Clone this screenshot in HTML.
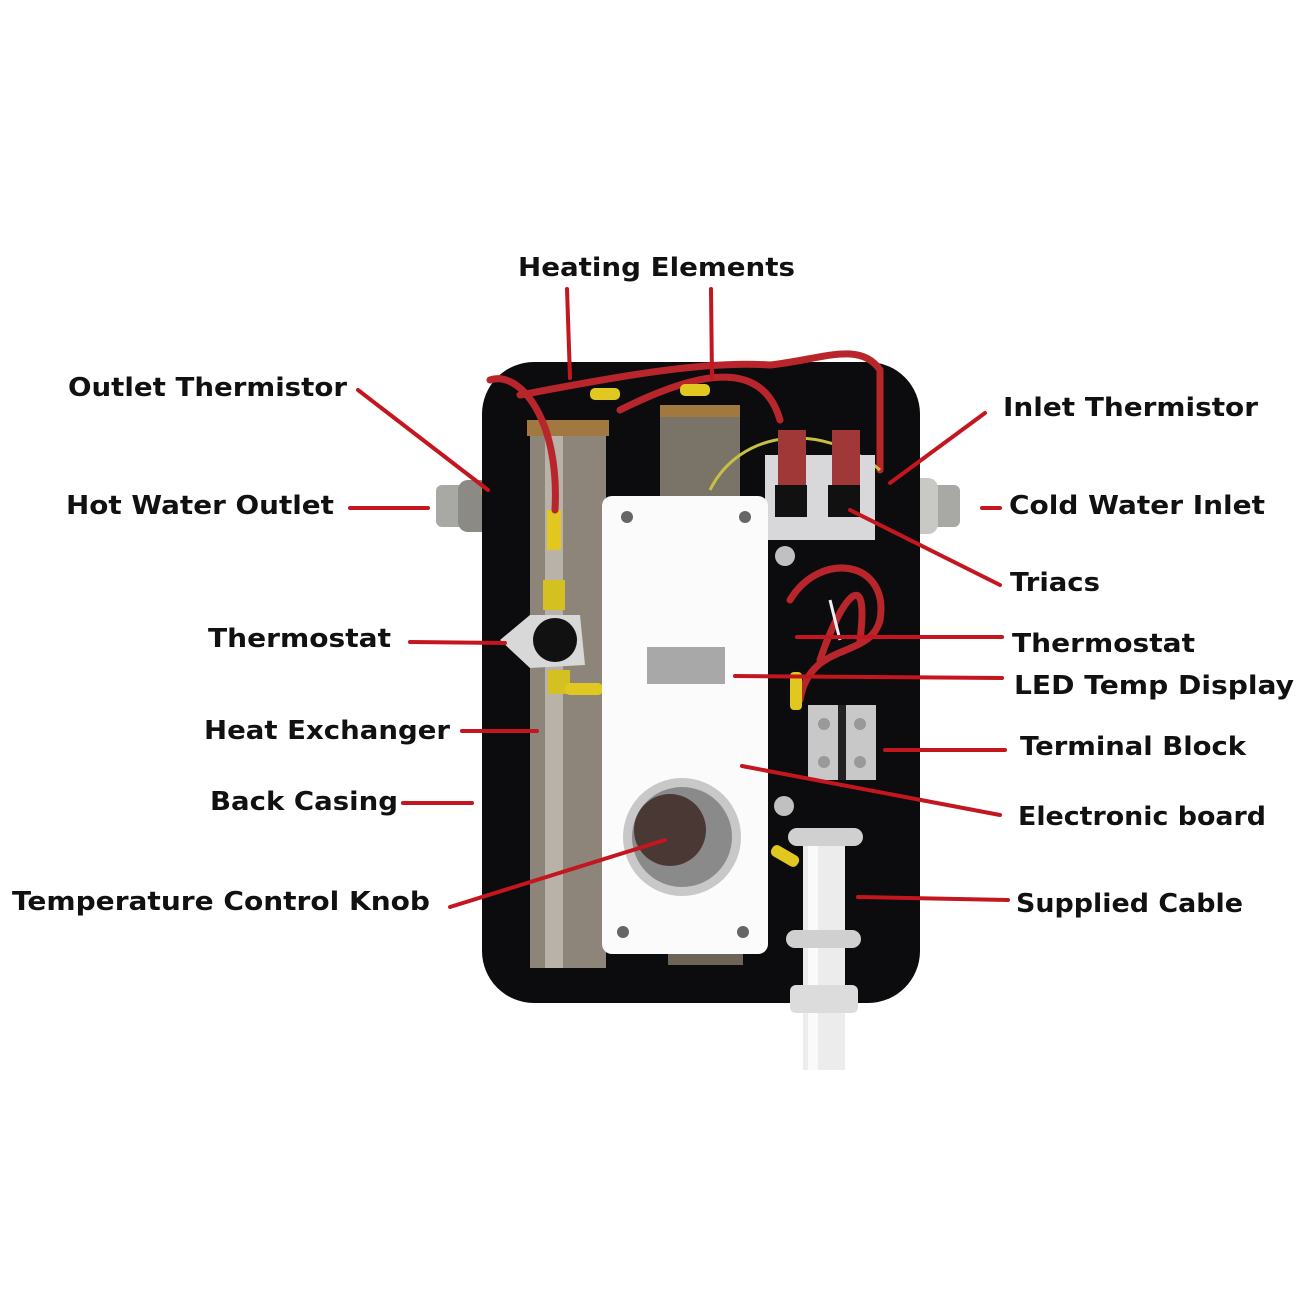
<!DOCTYPE html>
<html><head><meta charset="utf-8"><style>
html,body{margin:0;padding:0;background:#fff}
svg{display:block}
text{font-family:"DejaVu Sans","Liberation Sans",sans-serif;font-weight:bold;font-size:26px;fill:#111}
.l{stroke:#c3161e;stroke-width:4;stroke-linecap:round;fill:none}
.w{stroke:#b8262c;stroke-width:7;fill:none;stroke-linecap:round}
</style></head><body>
<svg width="1300" height="1300" viewBox="0 0 1300 1300">
<rect width="1300" height="1300" fill="#fff"/>
<!-- fittings -->
<rect x="436" y="485" width="30" height="42" rx="6" fill="#a8a8a4"/>
<rect x="458" y="480" width="60" height="52" rx="10" fill="#8c8a84"/>
<circle cx="490" cy="492" r="9" fill="#c9a030"/><circle cx="490" cy="492" r="4" fill="#333"/>
<rect x="930" y="485" width="30" height="42" rx="6" fill="#a8a8a4"/>
<rect x="878" y="478" width="60" height="56" rx="10" fill="#c8c8c4"/>
<circle cx="884" cy="485" r="9" fill="#c9a030"/><circle cx="884" cy="485" r="4" fill="#333"/>
<!-- casing -->
<rect x="482" y="362" width="438" height="641" rx="52" fill="#0c0c0e"/>
<!-- left pipe -->
<rect x="530" y="428" width="76" height="540" fill="#8d857a"/>
<rect x="545" y="428" width="18" height="540" fill="#b8b2a8"/>
<rect x="527" y="420" width="82" height="16" fill="#a07840"/>
<!-- middle pipe top -->
<rect x="660" y="410" width="80" height="90" fill="#7a7468"/>
<rect x="660" y="405" width="80" height="12" fill="#a07840"/>
<rect x="668" y="945" width="75" height="20" fill="#6c6458"/>
<!-- thermostat left -->
<polygon points="500,640 530,615 580,615 585,665 530,668" fill="#d8d8d8"/>
<circle cx="555" cy="640" r="22" fill="#111"/>
<rect x="543" y="580" width="22" height="30" fill="#d4c020"/>
<rect x="547" y="510" width="14" height="40" fill="#e0c820"/>
<rect x="548" y="670" width="22" height="24" fill="#d4c020"/>
<rect x="565" y="683" width="38" height="12" rx="5" fill="#e0c820"/>
<!-- wires top -->
<path class="w" d="M490,380 C520,370 560,420 555,510"/>
<path class="w" d="M520,395 C600,380 700,360 770,365 C820,360 860,340 880,370 L880,470"/>
<path class="w" d="M620,410 C680,380 760,350 780,420"/>
<path d="M710,490 C740,430 820,420 880,470" stroke="#c8c040" stroke-width="3" fill="none"/>
<rect x="590" y="388" width="30" height="12" rx="5" fill="#e0c820"/>
<rect x="680" y="384" width="30" height="12" rx="5" fill="#e0c820"/>
<!-- triacs -->
<rect x="765" y="455" width="110" height="85" fill="#d8d8da"/>
<rect x="778" y="430" width="28" height="60" fill="#a03838"/>
<rect x="832" y="430" width="28" height="60" fill="#a03838"/>
<rect x="775" y="485" width="32" height="32" fill="#111"/>
<rect x="828" y="485" width="32" height="32" fill="#111"/>
<circle cx="785" cy="556" r="10" fill="#c0c0c0"/>
<!-- right wires -->
<path class="w" d="M790,600 C820,550 890,560 880,620 C870,660 810,640 800,700"/>
<path class="w" d="M820,660 C840,600 870,560 860,640"/>
<path d="M830,600 L840,640" stroke="#eee" stroke-width="3"/>
<rect x="790" y="672" width="12" height="38" rx="4" fill="#e0c820"/>
<!-- terminal block -->
<rect x="808" y="705" width="68" height="75" fill="#c8c8c8"/>
<rect x="838" y="705" width="8" height="75" fill="#222"/>
<circle cx="824" cy="724" r="6" fill="#999"/><circle cx="860" cy="724" r="6" fill="#999"/>
<circle cx="824" cy="762" r="6" fill="#999"/><circle cx="860" cy="762" r="6" fill="#999"/>
<circle cx="784" cy="806" r="10" fill="#c0c0c0"/>
<!-- cable -->
<rect x="803" y="840" width="42" height="230" fill="#ececec"/>
<rect x="808" y="840" width="10" height="230" fill="#fafafa"/>
<rect x="790" y="985" width="68" height="28" rx="6" fill="#dcdcdc"/>
<rect x="788" y="828" width="75" height="18" rx="9" fill="#d0d0d0"/>
<rect x="786" y="930" width="75" height="18" rx="9" fill="#d0d0d0"/>
<rect x="770" y="850" width="30" height="12" rx="5" fill="#e0c820" transform="rotate(30 785 856)"/>
<!-- board -->
<rect x="602" y="496" width="166" height="458" rx="10" fill="#fbfbfb"/>
<circle cx="627" cy="517" r="6" fill="#666"/><circle cx="745" cy="517" r="6" fill="#666"/>
<circle cx="623" cy="932" r="6" fill="#666"/><circle cx="743" cy="932" r="6" fill="#666"/>
<rect x="647" y="647" width="78" height="37" fill="#a8a8a8"/>
<circle cx="682" cy="837" r="59" fill="#c8c8c8"/>
<circle cx="682" cy="837" r="50" fill="#8a8a8a"/>
<circle cx="670" cy="830" r="36" fill="#4a3834"/>
<!-- lines -->
<line class="l" x1="567" y1="289" x2="570" y2="378"/>
<line class="l" x1="711" y1="289" x2="712" y2="378"/>
<line class="l" x1="358" y1="390" x2="488" y2="490"/>
<line class="l" x1="985" y1="413" x2="890" y2="483"/>
<line class="l" x1="350" y1="508" x2="428" y2="508"/>
<line class="l" x1="982" y1="508" x2="1000" y2="508"/>
<line class="l" x1="850" y1="510" x2="1000" y2="585"/>
<line class="l" x1="410" y1="642" x2="505" y2="643"/>
<line class="l" x1="797" y1="637" x2="1002" y2="637"/>
<line class="l" x1="735" y1="676" x2="1002" y2="678"/>
<line class="l" x1="462" y1="731" x2="537" y2="731"/>
<line class="l" x1="885" y1="750" x2="1005" y2="750"/>
<line class="l" x1="403" y1="803" x2="472" y2="803"/>
<line class="l" x1="742" y1="766" x2="1000" y2="815"/>
<line class="l" x1="450" y1="907" x2="665" y2="840"/>
<line class="l" x1="858" y1="897" x2="1008" y2="900"/>
<!-- labels -->
<text x="518" y="276" textLength="277" lengthAdjust="spacingAndGlyphs">Heating Elements</text>
<text x="68" y="396" textLength="279" lengthAdjust="spacingAndGlyphs">Outlet Thermistor</text>
<text x="66" y="514" textLength="268" lengthAdjust="spacingAndGlyphs">Hot Water Outlet</text>
<text x="208" y="647" textLength="183" lengthAdjust="spacingAndGlyphs">Thermostat</text>
<text x="204" y="739" textLength="246" lengthAdjust="spacingAndGlyphs">Heat Exchanger</text>
<text x="210" y="810" textLength="188" lengthAdjust="spacingAndGlyphs">Back Casing</text>
<text x="12" y="910" textLength="418" lengthAdjust="spacingAndGlyphs">Temperature Control Knob</text>
<text x="1003" y="416" textLength="255" lengthAdjust="spacingAndGlyphs">Inlet Thermistor</text>
<text x="1009" y="514" textLength="256" lengthAdjust="spacingAndGlyphs">Cold Water Inlet</text>
<text x="1010" y="591" textLength="90" lengthAdjust="spacingAndGlyphs">Triacs</text>
<text x="1012" y="652" textLength="183" lengthAdjust="spacingAndGlyphs">Thermostat</text>
<text x="1014" y="694" textLength="280" lengthAdjust="spacingAndGlyphs">LED Temp Display</text>
<text x="1020" y="755" textLength="226" lengthAdjust="spacingAndGlyphs">Terminal Block</text>
<text x="1018" y="825" textLength="248" lengthAdjust="spacingAndGlyphs">Electronic board</text>
<text x="1016" y="912" textLength="227" lengthAdjust="spacingAndGlyphs">Supplied Cable</text>
</svg>
</body></html>
